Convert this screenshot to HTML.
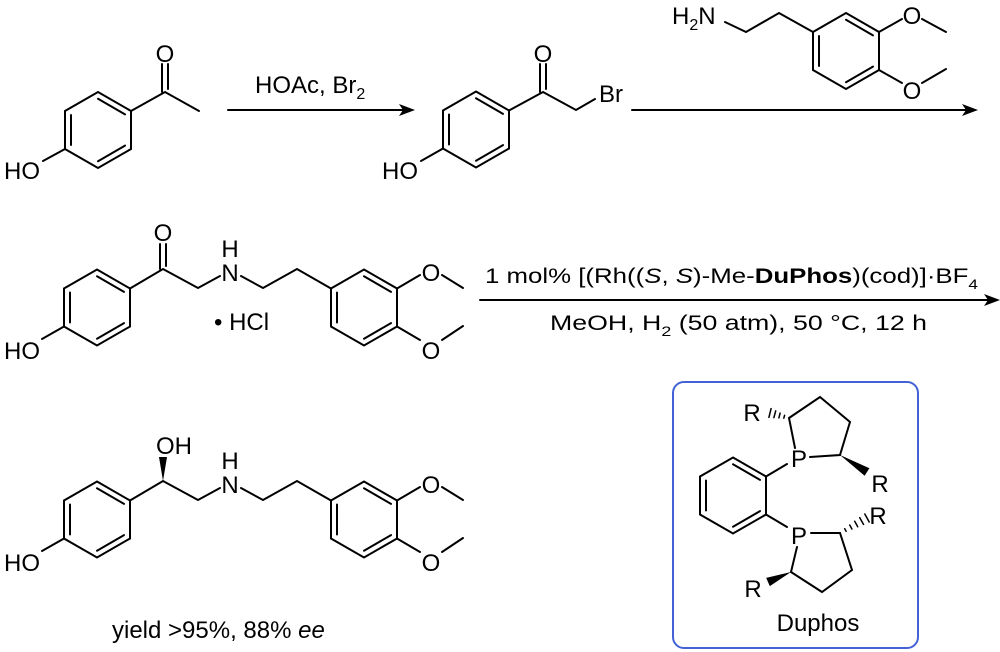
<!DOCTYPE html>
<html><head><meta charset="utf-8"><style>
html,body{margin:0;padding:0;background:#fff;}
svg{display:block;}
text{font-family:"Liberation Sans",Arial,sans-serif;fill:#000;}
</style></head><body>
<svg width="1000" height="652" viewBox="0 0 1000 652" xmlns="http://www.w3.org/2000/svg">
<defs>
<g id="ring" fill="none" stroke="#000" stroke-width="2">
<path d="M0,-38 L33,-19 L33,19 L0,38 L-33,19 L-33,-19 Z"/>
<path d="M-27,-15 L-27,15 M0,-31.2 L27,-15.6 M0,31.2 L27,15.6"/>
</g>
</defs>
<g stroke="#000" stroke-width="2" fill="none" stroke-linecap="round">
<!-- mol1 -->
<use href="#ring" x="98" y="130"/>
<path d="M131,111 L165,92 L199,111 M162,92 L162,64 M168,89 L168,64 M65,149 L43,161"/>
<!-- mol2 -->
<use href="#ring" x="476" y="129.5"/>
<path d="M509,110.5 L543,92 L576,110 L595,99 M540,92 L540,64 M546,89 L546,64 M443,148.5 L421,161"/>
<!-- amine -->
<use href="#ring" x="846" y="51"/>
<path d="M725,22 L746,32 L779,13 L813,32 M879,32 L902,19 M922,19 L946,32 M879,70 L902,83 M922,83 L946,69"/>
<!-- arrows -->
<path d="M228,110 L405,110 M632,110 L966,110 M480,300 L988,300"/>
<!-- mol3 -->
<g id="m3">
<use href="#ring" x="97" y="307.5"/>
<path d="M130,288.5 L163,269 L198,288 L220,276 M241,276 L263,288 L297,269 L331,288.5 M397,288.5 L420,275 M442,275 L463,288 M397,326.5 L420,340 M442,340 L463,326 M64,326.5 L42,339"/>
<use href="#ring" x="364" y="307.5"/>
</g>
<path d="M160,269 L160,244 M166,266 L166,244"/>
<use href="#m3" transform="translate(0,212)"/>
<!-- duphos -->
<rect x="673" y="382" width="245" height="266" rx="11" stroke="#4262d6" stroke-width="2"/>
<use href="#ring" x="733" y="495.5"/>
<path d="M766,476.5 L787,464 M795,448 L789,418 L820,397 L850,422 L840,455 L810,457 M766,514.5 L787,527 M811,533 L840,533 L852,570 L822,592 L791,572 L797,547"/>
<path stroke-width="1.5" d="M784.6,415.3 L783.8,418.2 M780.1,413.1 L778.9,417.9 M775.7,410.9 L773.9,417.6 M771.1,408.6 L768.9,417.4 M846.1,531.3 L844.7,528.7 M851.9,529 L849.7,525 M857.7,526.7 L854.7,521.3 M863.5,524.4 L859.7,517.6 M869.2,522 L864.8,514"/>
</g>
<g fill="#000">
<polygon points="415,110 399,104 403,110 399,116"/>
<polygon points="978,110 962,104 966,110 962,116"/>
<polygon points="1000,300 984,294 988,300 984,306"/>
<polygon points="163,481 159,457 167,457"/>
<polygon points="840,455 864.6,475.8 869.4,468.2"/>
<polygon points="791,572 769.8,586.1 766.2,577.9"/>
</g>
<g font-size="24">
<text x="165" y="62" text-anchor="middle">O</text>
<text x="40" y="179" text-anchor="end">HO</text>
<text x="255" y="93">HOAc, Br<tspan font-size="16" dy="6">2</tspan></text>
<text x="543" y="62" text-anchor="middle">O</text>
<text x="599" y="102">Br</text>
<text x="418" y="179" text-anchor="end">HO</text>
<text x="672" y="24">H<tspan font-size="16" dy="6">2</tspan><tspan dy="-6">N</tspan></text>
<text x="912" y="24" text-anchor="middle">O</text>
<text x="912" y="99" text-anchor="middle">O</text>
<!-- mol3 -->
<text x="163" y="241" text-anchor="middle">O</text>
<text x="40" y="359" text-anchor="end">HO</text>
<text x="230" y="281" text-anchor="middle">N</text>
<text x="230" y="257" text-anchor="middle">H</text>
<text x="431" y="281" text-anchor="middle">O</text>
<text x="431" y="359" text-anchor="middle">O</text>
<text x="214" y="330">• HCl</text>
<!-- mol4 -->
<text x="174" y="454" text-anchor="middle">OH</text>
<text x="40" y="571" text-anchor="end">HO</text>
<text x="230" y="493" text-anchor="middle">N</text>
<text x="230" y="469" text-anchor="middle">H</text>
<text x="431" y="493" text-anchor="middle">O</text>
<text x="431" y="571" text-anchor="middle">O</text>
<text x="112" y="638">yield &gt;95%, 88% <tspan font-style="italic">ee</tspan></text>
<!-- duphos -->
<text x="799" y="467" text-anchor="middle">P</text>
<text x="799" y="544" text-anchor="middle">P</text>
<text x="752" y="421" text-anchor="middle">R</text>
<text x="880" y="492" text-anchor="middle">R</text>
<text x="878" y="524" text-anchor="middle">R</text>
<text x="753" y="597" text-anchor="middle">R</text>
<text x="818" y="631" text-anchor="middle">Duphos</text>
</g>
<text x="485" y="283" font-size="21" textLength="493" lengthAdjust="spacingAndGlyphs">1 mol% [(Rh((<tspan font-style="italic">S</tspan>, <tspan font-style="italic">S</tspan>)-Me-<tspan font-weight="bold">DuPhos</tspan>)(cod)]·BF<tspan font-size="14" dy="6">4</tspan></text>
<text x="550" y="330" font-size="21" textLength="377" lengthAdjust="spacingAndGlyphs">MeOH, H<tspan font-size="14" dy="6">2</tspan><tspan dy="-6"> (50 atm), 50 °C, 12 h</tspan></text>
</svg>
</body></html>
